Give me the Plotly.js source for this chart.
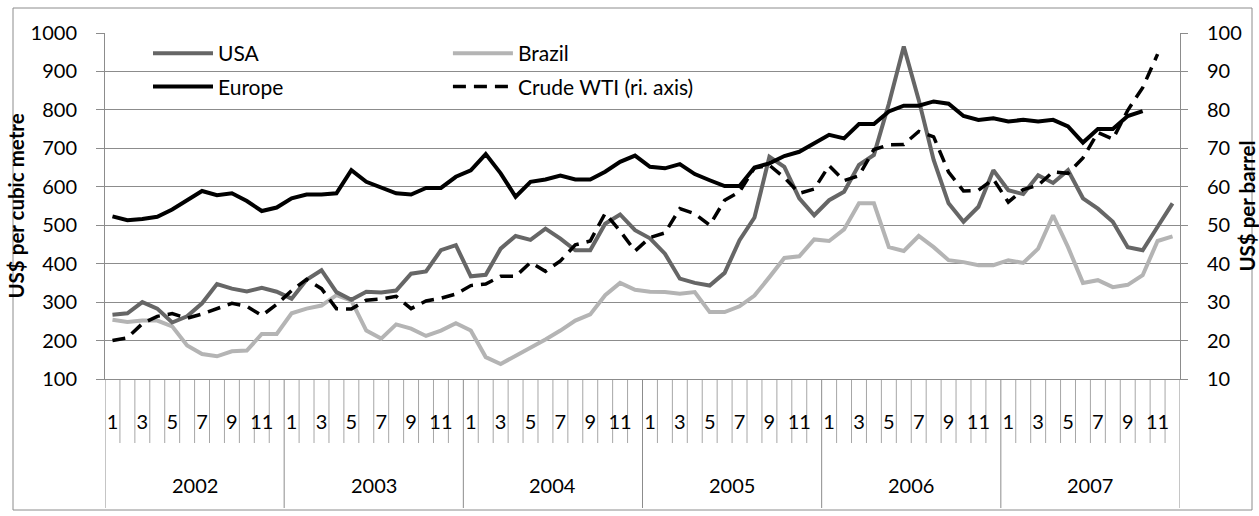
<!DOCTYPE html>
<html>
<head>
<meta charset="utf-8">
<script src="https://cdn.plot.ly/plotly-3.0.1.min.js"></script>
<style>html,body{margin:0;padding:0;background:#fff;}#chart{width:1259px;height:516px;}</style>
</head>
<body>
<div id="chart"></div>
<script>
// ---- data ----
const years = [2002, 2003, 2004, 2005, 2006, 2007];
const monthLabels = ["1","","3","","5","","7","","9","","11",""];

const usa = [
  267, 271, 300, 283, 247, 263, 297, 347, 335, 328, 337, 327,
  309, 358, 383, 326, 306, 327, 325, 330, 374, 380, 435, 448,
  367, 371, 439, 472, 462, 491, 465, 435, 435, 504, 528, 487,
  466, 426, 361, 350, 343, 376, 461, 520, 678, 652, 570, 526,
  565, 587, 657, 683, 816, 965, 826, 670, 557, 509, 548, 643,
  591, 581, 630, 610, 643, 570, 543, 509, 443, 435, 496, 557
];
const brazil = [
  254, 248, 252, 252, 237, 187, 165, 159, 172, 174, 217, 217,
  271, 283, 291, 318, 304, 226, 205, 242, 231, 212, 226, 245,
  226, 157, 139, 160, 181, 203, 226, 252, 268, 318, 350, 332,
  327, 326, 322, 326, 274, 274, 289, 317, 365, 415, 419, 463,
  459, 489, 557, 557, 443, 433, 472, 443, 409, 404, 396, 396,
  409, 402, 439, 526, 443, 350, 357, 339, 345, 370, 459, 471
];
const europe = [
  523, 513, 516, 522, 541, 565, 589, 578, 583, 563, 537, 546,
  570, 580, 580, 583, 643, 613, 598, 583, 580, 597, 597, 626,
  643, 685, 635, 574, 613, 619, 629, 619, 619, 639, 665, 681,
  652, 648, 659, 633, 617, 602, 602, 650, 661, 680, 691, 713,
  735, 726, 763, 763, 796, 811, 811, 822, 816, 784, 774, 778,
  770, 774, 770, 774, 757, 715, 750, 750, 784, 797, null, null
];
const wti = [
  20.0, 20.7, 24.4, 26.3, 27.0, 25.8, 26.9, 28.4, 29.7, 28.9, 26.5, 29.4,
  33.0, 35.9, 33.5, 28.3, 28.2, 30.5, 30.8, 31.5, 28.3, 30.3, 31.0, 32.1,
  34.3, 34.7, 36.7, 36.7, 40.3, 38.0, 40.7, 44.9, 45.9, 53.1, 48.5, 43.3,
  46.8, 48.0, 54.3, 53.0, 50.0, 56.5, 58.7, 64.9, 65.6, 62.4, 58.3, 59.4,
  65.5, 61.6, 62.9, 69.7, 70.9, 71.0, 74.4, 73.0, 63.8, 58.9, 59.1, 62.0,
  56.0, 59.3, 60.4, 63.9, 63.5, 67.5, 74.1, 72.4, 79.9, 85.8, 94.5, null
];

// ---- build axis helpers ----
const nMonths = years.length * monthLabels.length;
const xIdx = [];
for (let i = 0; i < nMonths; i++) xIdx.push(i);
const tickvals = [], ticktext = [];
xIdx.forEach(i => {
  const lab = monthLabels[i % 12];
  if (lab !== "") { tickvals.push(i); ticktext.push(lab); }
});

const FONT = "Lato, 'Open Sans', sans-serif";
const GRID = "#8c8c8c";
const TICKC = "#a6a6a6";
const TSIZE = 20;

// plot area pixels: left 105, right 1180, top 33, bottom 379
const plotH = 346;
const shapes = [];
for (let k = 0; k <= nMonths; k++) {
  const isYear = (k % 12 === 0);
  shapes.push({
    type: "line", xref: "x", yref: "paper",
    x0: k - 0.5, x1: k - 0.5, y0: 0,
    y1: isYear ? -(508 - 379) / plotH : -(443 - 379) / plotH,
    line: { color: isYear ? GRID : TICKC, width: 1 }, layer: "below"
  });
}
// outer chart border
shapes.push({
  type: "rect", xref: "paper", yref: "paper",
  x0: (13 - 105) / 1075, x1: (1252 - 105) / 1075,
  y0: (379 - 510) / plotH, y1: (379 - 8) / plotH,
  line: { color: "#8c8c8c", width: 1 }, fillcolor: "rgba(0,0,0,0)", layer: "below"
});

const annotations = years.map((yr, j) => ({
  x: j * 12 + 5.5, xref: "x",
  y: -(485 - 379) / plotH, yref: "paper",
  text: String(yr), showarrow: false,
  xanchor: "center", yanchor: "middle",
  font: { family: FONT, size: TSIZE, color: "#000" }
}));

const traces = [
  { x: xIdx, y: usa, name: "USA", type: "scatter", mode: "lines",
    line: { color: "#666666", width: 4 }, legend: "legend", legendgroup: "a" },
  { x: xIdx, y: europe, name: "Europe", type: "scatter", mode: "lines",
    line: { color: "#000000", width: 4 }, legend: "legend", legendgroup: "b" },
  { x: xIdx, y: brazil, name: "Brazil", type: "scatter", mode: "lines",
    line: { color: "#b4b4b4", width: 4 }, legend: "legend2", legendgroup: "c" },
  { x: xIdx, y: wti, name: "Crude WTI (ri. axis)", type: "scatter", mode: "lines",
    yaxis: "y2", line: { color: "#000000", width: 3.5, dash: "13px,8px" },
    legend: "legend2", legendgroup: "d" }
];
// draw Brazil first so darker lines sit on top
const ordered = [traces[2], traces[0], traces[1], traces[3]];

const legendBase = {
  orientation: "v", traceorder: "grouped", tracegroupgap: 3,
  bgcolor: "rgba(0,0,0,0)", borderwidth: 0,
  font: { family: FONT, size: 21, color: "#000" },
  xanchor: "left", yanchor: "top", itemwidth: 60
};

const layout = {
  width: 1259, height: 516,
  margin: { l: 105, r: 79, t: 33, b: 137, pad: 0 },
  paper_bgcolor: "#fff", plot_bgcolor: "#fff",
  font: { family: FONT, size: TSIZE, color: "#000" },
  showlegend: true,
  legend: Object.assign({}, legendBase, { x: 0.040, y: 1.0 }),
  legend2: Object.assign({}, legendBase, { x: 0.319, y: 1.0 }),
  xaxis: {
    range: [-0.5, nMonths - 0.5], tickmode: "array", tickvals: tickvals, ticktext: ticktext,
    showgrid: false, zeroline: false, showline: true, linecolor: GRID, linewidth: 1,
    ticks: "", ticklabelstandoff: 25, tickfont: { family: FONT, size: TSIZE, color: "#000" },
    fixedrange: true
  },
  yaxis: {
    range: [100, 1000], tick0: 100, dtick: 100,
    showgrid: true, gridcolor: GRID, gridwidth: 1, zeroline: false,
    showline: true, linecolor: GRID, linewidth: 1,
    ticks: "outside", ticklen: 8, tickcolor: GRID, ticklabelstandoff: 15,
    tickfont: { family: FONT, size: TSIZE, color: "#000" },
    title: { text: "US$ per cubic metre", standoff: 0,
      font: { family: FONT, size: 20.5, color: "#000", weight: "bold" } }
  },
  yaxis2: {
    range: [10, 100], tick0: 10, dtick: 10, overlaying: "y", side: "right",
    showgrid: false, zeroline: false, showline: true, linecolor: GRID, linewidth: 1,
    ticks: "outside", ticklen: 7, tickcolor: GRID, ticklabelstandoff: 15,
    tickfont: { family: FONT, size: TSIZE, color: "#000" },
    title: { text: "US$ per barrel", standoff: 4,
      font: { family: FONT, size: 20.5, color: "#000", weight: "bold" } }
  },
  shapes: shapes,
  annotations: annotations
};

Plotly.newPlot("chart", ordered, layout, { displayModeBar: false, staticPlot: true });
</script>
</body>
</html>
